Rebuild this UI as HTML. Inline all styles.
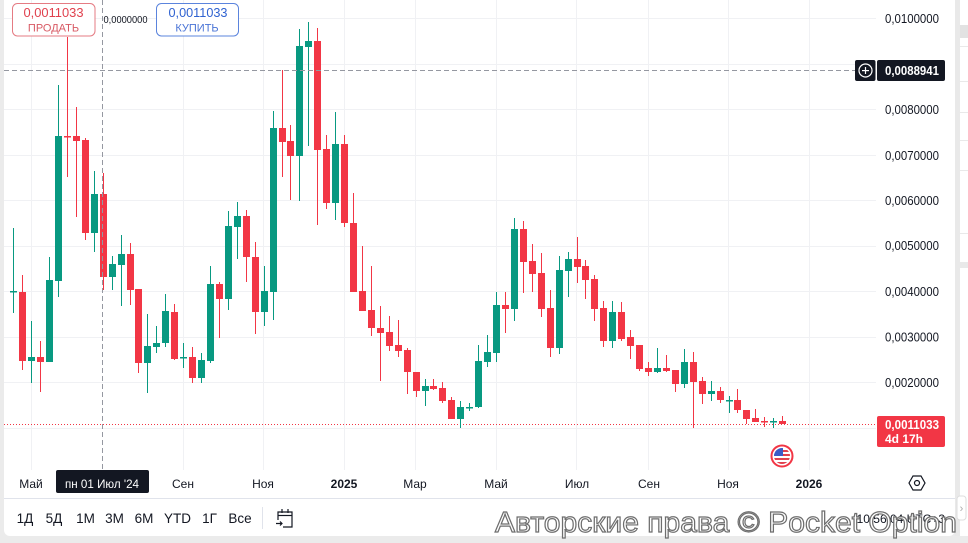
<!DOCTYPE html>
<html><head><meta charset="utf-8"><style>
html,body{margin:0;padding:0;background:#ebebeb;}
svg{display:block;}
text{font-family:"Liberation Sans",sans-serif;}
</style></head><body>
<svg width="968" height="543" viewBox="0 0 968 543" xmlns="http://www.w3.org/2000/svg">
<rect x="0" y="0" width="968" height="543" fill="#ebebeb"/>
<rect x="4" y="-10" width="951" height="546" rx="6" fill="#ffffff"/>
<rect x="960" y="0" width="8" height="536" fill="#ffffff"/>
<rect x="960" y="25" width="8" height="13" fill="#e2e2e2"/>
<g fill="#e9e9e9"><rect x="960" y="46" width="8" height="1"/><rect x="960" y="81" width="8" height="1"/><rect x="960" y="112" width="8" height="1"/><rect x="960" y="140" width="8" height="1"/><rect x="960" y="170" width="8" height="1"/><rect x="960" y="233" width="8" height="1"/><rect x="960" y="262" width="8" height="6"/></g>
<g fill="#f0f1f4">
<rect x="4" y="18" width="872" height="1"/><rect x="4" y="64" width="872" height="1"/><rect x="4" y="109" width="872" height="1"/><rect x="4" y="155" width="872" height="1"/><rect x="4" y="200" width="872" height="1"/><rect x="4" y="246" width="872" height="1"/><rect x="4" y="291" width="872" height="1"/><rect x="4" y="337" width="872" height="1"/><rect x="4" y="382" width="872" height="1"/><rect x="4" y="428" width="872" height="1"/>
<rect x="31" y="0" width="1" height="470"/><rect x="183" y="0" width="1" height="470"/><rect x="263" y="0" width="1" height="470"/><rect x="344" y="0" width="1" height="470"/><rect x="415" y="0" width="1" height="470"/><rect x="496" y="0" width="1" height="470"/><rect x="576" y="0" width="1" height="470"/><rect x="648" y="0" width="1" height="470"/><rect x="728" y="0" width="1" height="470"/><rect x="809" y="0" width="1" height="470"/>
</g>
<line x1="4" y1="424.5" x2="876" y2="424.5" stroke="#f23645" stroke-width="1" stroke-dasharray="1 2"/>
<g fill="#089981">
<rect x="13" y="228" width="1" height="85"/><rect x="10" y="291" width="7" height="1.5"/>
<rect x="31" y="321" width="1" height="62"/><rect x="28" y="357" width="7" height="4"/>
<rect x="49" y="257" width="1" height="105"/><rect x="46" y="280" width="7" height="82"/>
<rect x="58" y="85" width="1" height="212"/><rect x="55" y="136" width="7" height="145"/>
<rect x="94" y="171" width="1" height="81"/><rect x="91" y="194" width="7" height="39"/>
<rect x="112" y="256" width="1" height="34"/><rect x="109" y="264" width="7" height="13"/>
<rect x="121" y="235" width="1" height="71"/><rect x="118" y="254" width="7" height="11"/>
<rect x="147" y="314" width="1" height="79"/><rect x="144" y="346" width="7" height="17"/>
<rect x="156" y="326" width="1" height="27"/><rect x="153" y="343" width="7" height="4"/>
<rect x="165" y="294" width="1" height="53"/><rect x="162" y="311" width="7" height="32"/>
<rect x="183" y="343" width="1" height="25"/><rect x="180" y="357" width="7" height="1.5"/>
<rect x="201" y="353" width="1" height="30"/><rect x="198" y="360" width="7" height="18"/>
<rect x="210" y="266" width="1" height="97"/><rect x="207" y="284" width="7" height="77"/>
<rect x="228" y="211" width="1" height="99"/><rect x="225" y="226" width="7" height="73"/>
<rect x="237" y="202" width="1" height="57"/><rect x="234" y="216" width="7" height="11"/>
<rect x="264" y="266" width="1" height="60"/><rect x="261" y="291" width="7" height="21"/>
<rect x="273" y="111" width="1" height="209"/><rect x="270" y="128" width="7" height="164"/>
<rect x="299" y="29" width="1" height="172"/><rect x="296" y="46" width="7" height="110"/>
<rect x="308" y="22" width="1" height="124"/><rect x="305" y="41" width="7" height="6"/>
<rect x="335" y="112" width="1" height="108"/><rect x="332" y="144" width="7" height="59"/>
<rect x="425" y="379" width="1" height="27"/><rect x="422" y="386" width="7" height="5"/>
<rect x="460" y="401" width="1" height="27"/><rect x="457" y="407" width="7" height="12"/>
<rect x="469" y="403" width="1" height="8"/><rect x="466" y="407" width="7" height="1.5"/>
<rect x="478" y="345" width="1" height="63"/><rect x="475" y="361" width="7" height="46"/>
<rect x="487" y="335" width="1" height="32"/><rect x="484" y="352" width="7" height="10"/>
<rect x="496" y="292" width="1" height="70"/><rect x="493" y="305" width="7" height="48"/>
<rect x="514" y="218" width="1" height="103"/><rect x="511" y="229" width="7" height="80"/>
<rect x="559" y="256" width="1" height="98"/><rect x="556" y="270" width="7" height="78"/>
<rect x="568" y="252" width="1" height="45"/><rect x="565" y="259" width="7" height="12"/>
<rect x="612" y="301" width="1" height="47"/><rect x="609" y="312" width="7" height="29"/>
<rect x="657" y="348" width="1" height="25"/><rect x="654" y="368" width="7" height="4"/>
<rect x="684" y="349" width="1" height="39"/><rect x="681" y="362" width="7" height="22"/>
<rect x="711" y="381" width="1" height="20"/><rect x="708" y="391" width="7" height="3"/>
<rect x="729" y="396" width="1" height="17"/><rect x="726" y="400" width="7" height="1.5"/>
<rect x="773" y="418" width="1" height="10"/><rect x="770" y="421" width="7" height="1.5"/>
</g>
<g fill="#f23645">
<rect x="22" y="275" width="1" height="95"/><rect x="19" y="292" width="7" height="69"/>
<rect x="40" y="341" width="1" height="51"/><rect x="37" y="357" width="7" height="5"/>
<rect x="67" y="37" width="1" height="140"/><rect x="64" y="136" width="7" height="1.5"/>
<rect x="76" y="107" width="1" height="110"/><rect x="73" y="136" width="7" height="5"/>
<rect x="85" y="138" width="1" height="102"/><rect x="82" y="140" width="7" height="93"/>
<rect x="103" y="173" width="1" height="117"/><rect x="100" y="194" width="7" height="83"/>
<rect x="130" y="243" width="1" height="62"/><rect x="127" y="254" width="7" height="36"/>
<rect x="138" y="289" width="1" height="84"/><rect x="135" y="289" width="7" height="74"/>
<rect x="174" y="304" width="1" height="56"/><rect x="171" y="312" width="7" height="47"/>
<rect x="192" y="347" width="1" height="36"/><rect x="189" y="357" width="7" height="21"/>
<rect x="219" y="282" width="1" height="56"/><rect x="216" y="284" width="7" height="15"/>
<rect x="246" y="210" width="1" height="72"/><rect x="243" y="216" width="7" height="41"/>
<rect x="255" y="242" width="1" height="92"/><rect x="252" y="257" width="7" height="55"/>
<rect x="282" y="70" width="1" height="107"/><rect x="279" y="128" width="7" height="14"/>
<rect x="290" y="125" width="1" height="75"/><rect x="287" y="141" width="7" height="15"/>
<rect x="317" y="28" width="1" height="197"/><rect x="314" y="41" width="7" height="109"/>
<rect x="326" y="135" width="1" height="74"/><rect x="323" y="149" width="7" height="54"/>
<rect x="344" y="135" width="1" height="92"/><rect x="341" y="144" width="7" height="79"/>
<rect x="353" y="193" width="1" height="99"/><rect x="350" y="223" width="7" height="69"/>
<rect x="362" y="246" width="1" height="65"/><rect x="359" y="291" width="7" height="20"/>
<rect x="371" y="266" width="1" height="70"/><rect x="368" y="310" width="7" height="18"/>
<rect x="380" y="306" width="1" height="75"/><rect x="377" y="328" width="7" height="5"/>
<rect x="389" y="316" width="1" height="35"/><rect x="386" y="332" width="7" height="14"/>
<rect x="398" y="320" width="1" height="37"/><rect x="395" y="345" width="7" height="6"/>
<rect x="407" y="348" width="1" height="46"/><rect x="404" y="350" width="7" height="22"/>
<rect x="416" y="372" width="1" height="25"/><rect x="413" y="372" width="7" height="19"/>
<rect x="433" y="379" width="1" height="11"/><rect x="430" y="386" width="7" height="3"/>
<rect x="442" y="382" width="1" height="21"/><rect x="439" y="388" width="7" height="13"/>
<rect x="451" y="397" width="1" height="22"/><rect x="448" y="400" width="7" height="19"/>
<rect x="505" y="292" width="1" height="41"/><rect x="502" y="305" width="7" height="4"/>
<rect x="523" y="221" width="1" height="72"/><rect x="520" y="229" width="7" height="33"/>
<rect x="532" y="244" width="1" height="48"/><rect x="529" y="261" width="7" height="13"/>
<rect x="541" y="253" width="1" height="64"/><rect x="538" y="273" width="7" height="36"/>
<rect x="550" y="290" width="1" height="67"/><rect x="547" y="308" width="7" height="40"/>
<rect x="577" y="237" width="1" height="46"/><rect x="574" y="259" width="7" height="8"/>
<rect x="585" y="260" width="1" height="39"/><rect x="582" y="266" width="7" height="14"/>
<rect x="594" y="275" width="1" height="46"/><rect x="591" y="279" width="7" height="30"/>
<rect x="603" y="301" width="1" height="46"/><rect x="600" y="308" width="7" height="33"/>
<rect x="621" y="302" width="1" height="39"/><rect x="618" y="312" width="7" height="27"/>
<rect x="630" y="330" width="1" height="29"/><rect x="627" y="337" width="7" height="9"/>
<rect x="639" y="345" width="1" height="26"/><rect x="636" y="345" width="7" height="24"/>
<rect x="648" y="362" width="1" height="14"/><rect x="645" y="368" width="7" height="4"/>
<rect x="666" y="355" width="1" height="17"/><rect x="663" y="368" width="7" height="3"/>
<rect x="675" y="370" width="1" height="22"/><rect x="672" y="370" width="7" height="14"/>
<rect x="693" y="352" width="1" height="76"/><rect x="690" y="362" width="7" height="20"/>
<rect x="702" y="377" width="1" height="27"/><rect x="699" y="381" width="7" height="13"/>
<rect x="720" y="387" width="1" height="16"/><rect x="717" y="391" width="7" height="9"/>
<rect x="737" y="389" width="1" height="24"/><rect x="734" y="400" width="7" height="10"/>
<rect x="746" y="410" width="1" height="14"/><rect x="743" y="410" width="7" height="9"/>
<rect x="755" y="409" width="1" height="13"/><rect x="752" y="418" width="7" height="4"/>
<rect x="764" y="417" width="1" height="10"/><rect x="761" y="421" width="7" height="1.5"/>
<rect x="782" y="416" width="1" height="8"/><rect x="779" y="421" width="7" height="3"/>
</g>
<line x1="102.5" y1="0" x2="102.5" y2="470" stroke="#9598a1" stroke-width="1" stroke-dasharray="5 3"/>
<line x1="4" y1="70.5" x2="855" y2="70.5" stroke="#9598a1" stroke-width="1" stroke-dasharray="5 3"/>
<rect x="12.5" y="3.5" width="82.5" height="32.5" rx="5" fill="#ffffff" stroke="#e57b83" stroke-width="1"/>
<text x="53.5" y="17" font-size="13" fill="#e0414e" text-anchor="middle" textLength="60" lengthAdjust="spacingAndGlyphs">0,0011033</text>
<text x="53.5" y="31.5" font-size="11" fill="#d85a64" text-anchor="middle">ПРОДАТЬ</text>
<rect x="156.5" y="3.5" width="82" height="32.5" rx="5" fill="#ffffff" stroke="#5b84dd" stroke-width="1"/>
<text x="198" y="17" font-size="13" fill="#2f62d1" text-anchor="middle" textLength="59" lengthAdjust="spacingAndGlyphs">0,0011033</text>
<text x="197" y="31.5" font-size="11" fill="#4a74d6" text-anchor="middle">КУПИТЬ</text>
<text x="103.5" y="23" font-size="10.5" fill="#131722" textLength="44" lengthAdjust="spacingAndGlyphs">0,0000000</text>
<g font-size="12.5" fill="#131722">
<text x="885" y="23" textLength="54" lengthAdjust="spacingAndGlyphs">0,0100000</text>
<text x="885" y="114" textLength="54" lengthAdjust="spacingAndGlyphs">0,0080000</text>
<text x="885" y="160" textLength="54" lengthAdjust="spacingAndGlyphs">0,0070000</text>
<text x="885" y="205" textLength="54" lengthAdjust="spacingAndGlyphs">0,0060000</text>
<text x="885" y="250" textLength="54" lengthAdjust="spacingAndGlyphs">0,0050000</text>
<text x="885" y="296" textLength="54" lengthAdjust="spacingAndGlyphs">0,0040000</text>
<text x="885" y="341.5" textLength="54" lengthAdjust="spacingAndGlyphs">0,0030000</text>
<text x="885" y="387" textLength="54" lengthAdjust="spacingAndGlyphs">0,0020000</text>
</g>
<rect x="855" y="60" width="20.5" height="21" rx="2" fill="#131722"/>
<circle cx="865.5" cy="70.5" r="6.5" fill="none" stroke="#ffffff" stroke-width="1.2"/>
<rect x="862" y="70" width="7" height="1.2" fill="#ffffff"/><rect x="864.9" y="67" width="1.2" height="7" fill="#ffffff"/>
<rect x="877" y="60" width="68" height="21" rx="2" fill="#131722"/>
<text x="885" y="75" font-size="12.5" font-weight="bold" fill="#ffffff" textLength="54" lengthAdjust="spacingAndGlyphs">0,0088941</text>
<rect x="877" y="416" width="68" height="31" rx="2" fill="#f23645"/>
<text x="885" y="429" font-size="12.5" font-weight="bold" fill="#ffffff" textLength="54" lengthAdjust="spacingAndGlyphs">0,0011033</text>
<text x="885" y="443" font-size="12" font-weight="bold" fill="#ffffff">4d 17h</text>
<circle cx="782" cy="456" r="10.5" fill="#ffffff" stroke="#f23645" stroke-width="2"/>
<clipPath id="fc"><circle cx="782" cy="456" r="8"/></clipPath>
<g clip-path="url(#fc)">
<rect x="773" y="447" width="18" height="18" fill="#ffffff"/>
<rect x="773" y="450" width="18" height="2" fill="#e0414e"/>
<rect x="773" y="454" width="18" height="2" fill="#e0414e"/>
<rect x="773" y="458" width="18" height="2" fill="#e0414e"/>
<rect x="773" y="462" width="18" height="2" fill="#e0414e"/>
<rect x="773" y="447" width="10" height="9" fill="#3a5bc7"/>
</g>
<g font-size="12" fill="#131722" text-anchor="middle">
<text x="31" y="488">Май</text>
<text x="183" y="488">Сен</text>
<text x="263" y="488">Ноя</text>
<text x="344" y="488" font-weight="bold">2025</text>
<text x="415" y="488">Мар</text>
<text x="496" y="488">Май</text>
<text x="577" y="488">Июл</text>
<text x="649" y="488">Сен</text>
<text x="728" y="488">Ноя</text>
<text x="809" y="488" font-weight="bold">2026</text>
</g>
<rect x="56" y="470" width="93" height="23" rx="2" fill="#131722"/>
<text x="65" y="488" font-size="12" fill="#ffffff" textLength="74" lengthAdjust="spacingAndGlyphs">пн 01 Июл '24</text>
<polygon points="909,483 913,476 921,476 925,483 921,490 913,490" fill="none" stroke="#131722" stroke-width="1.2"/>
<circle cx="917" cy="483" r="2.5" fill="none" stroke="#131722" stroke-width="1.2"/>
<rect x="4" y="498" width="951" height="1" fill="#e0e3eb"/>
<g font-size="13.5" fill="#131722" text-anchor="middle">
<text x="25" y="523">1Д</text>
<text x="54" y="523">5Д</text>
<text x="85.5" y="523">1М</text>
<text x="114.5" y="523">3М</text>
<text x="144" y="523">6М</text>
<text x="177.5" y="523">YTD</text>
<text x="209.5" y="523">1Г</text>
<text x="240" y="523">Все</text>
</g>
<rect x="262" y="507" width="1" height="22" fill="#e0e3eb"/>
<g fill="none" stroke="#131722" stroke-width="1.2">
<path d="M278 520 V512 H292 V527 H283"/>
<path d="M278 515.5 H292"/>
<path d="M282 509 V513 M288 509 V513"/>
<path d="M276 523.5 H282 M280 521.5 L282 523.5 L280 525.5"/>
</g>
<text x="945" y="523" font-size="12" fill="#131722" text-anchor="end">10:56:04 UTC+3</text>
<rect x="955" y="0" width="5" height="536" fill="#e9e9e9"/>
<rect x="957" y="496" width="9" height="24" rx="3" fill="#ffffff" stroke="#dddddd" stroke-width="1"/>
<text x="961.5" y="512" font-size="11" fill="#aaaaaa" text-anchor="middle">›</text>
<text x="495" y="532" font-size="29" fill="#ffffff" stroke="#6e6e6e" stroke-width="1.2" textLength="462" lengthAdjust="spacingAndGlyphs">Авторские права © Pocket Option</text>
</svg>
</body></html>
